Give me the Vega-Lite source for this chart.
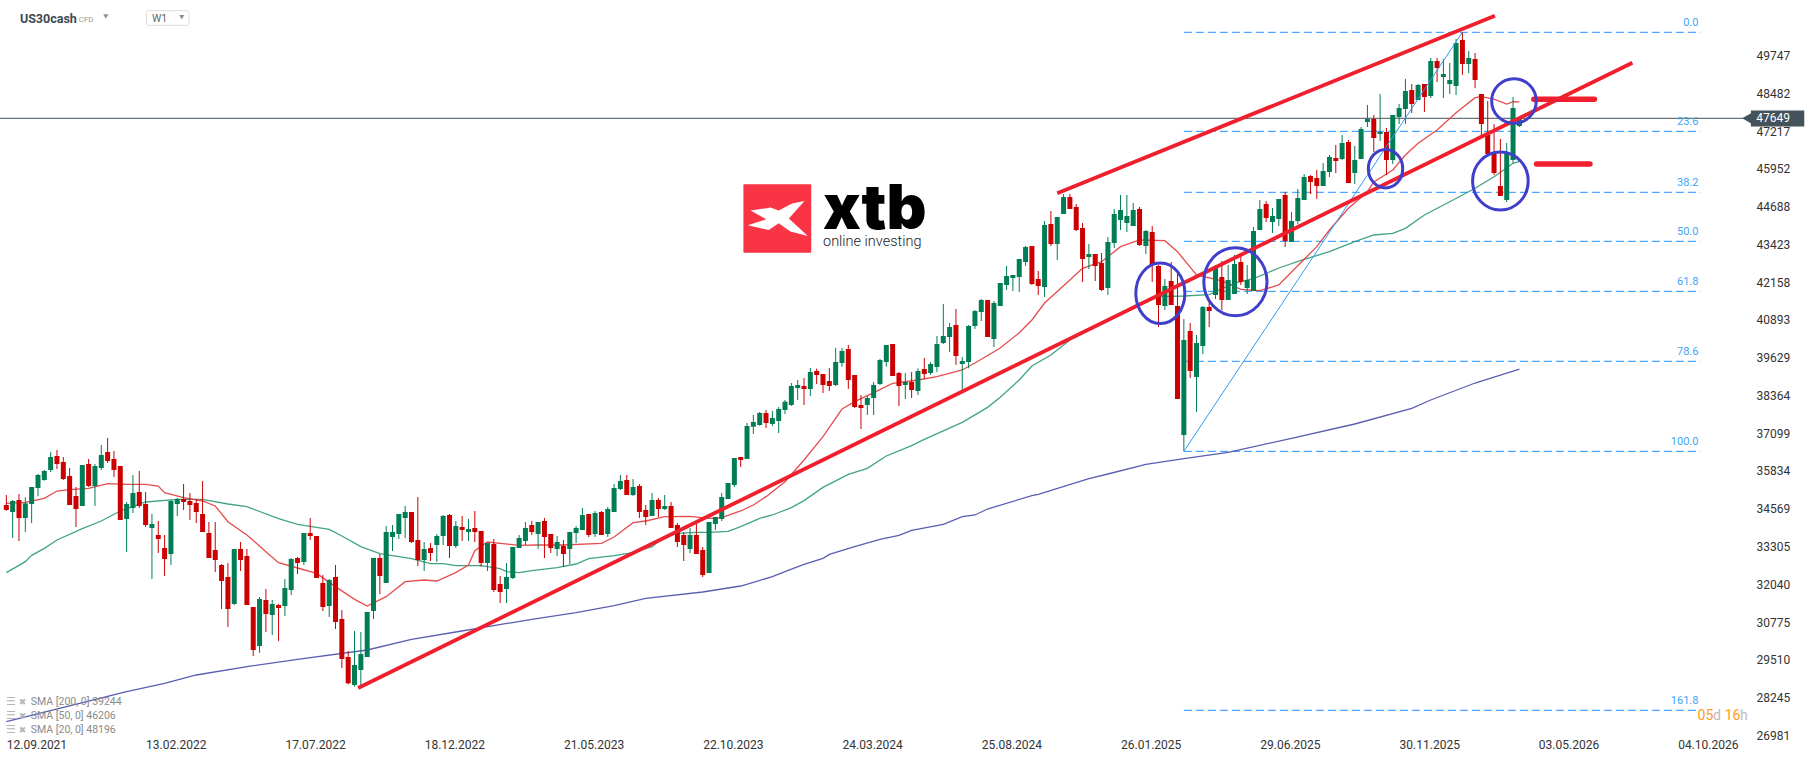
{
  "$schema": "https://vega.github.io/schema/vega-lite/v6.json",
  "width": 1750,
  "height": 740,
  "autosize": "none",
  "padding": {"left": 0, "top": 0, "right": 66, "bottom": 21},
  "background": "white",
  "config": {
    "view": {"stroke": null},
    "font": "Roboto",
    "axis": {"grid": false, "domain": false, "ticks": false, "title": null, "labelFont": "Roboto", "labelFontSize": 12, "labelColor": "#333333"}
  },
  "datasets": {
    "candles": [
      {"date":"2021-09-12","o":34695,"h":35030,"l":34504,"c":34527},
      {"date":"2021-09-19","o":34460,"h":34862,"l":33589,"c":34828},
      {"date":"2021-09-26","o":34862,"h":35063,"l":33488,"c":34259},
      {"date":"2021-10-03","o":34259,"h":34951,"l":33790,"c":34750},
      {"date":"2021-10-10","o":34728,"h":35297,"l":34091,"c":35297},
      {"date":"2021-10-17","o":35264,"h":35733,"l":34985,"c":35700},
      {"date":"2021-10-24","o":35532,"h":35867,"l":35510,"c":35834},
      {"date":"2021-10-31","o":35867,"h":36470,"l":35800,"c":36302},
      {"date":"2021-11-07","o":36336,"h":36537,"l":35900,"c":36068},
      {"date":"2021-11-14","o":36135,"h":36302,"l":35532,"c":35566},
      {"date":"2021-11-21","o":35666,"h":35934,"l":34695,"c":34695},
      {"date":"2021-11-28","o":34996,"h":35297,"l":33957,"c":34560},
      {"date":"2021-12-05","o":34661,"h":36034,"l":34661,"c":36034},
      {"date":"2021-12-12","o":36068,"h":36235,"l":35297,"c":35331},
      {"date":"2021-12-19","o":35331,"h":36068,"l":34661,"c":36001},
      {"date":"2021-12-26","o":35934,"h":36704,"l":35867,"c":36370},
      {"date":"2022-01-02","o":36470,"h":36939,"l":36101,"c":36168},
      {"date":"2022-01-09","o":36235,"h":36503,"l":35633,"c":35867},
      {"date":"2022-01-16","o":36001,"h":36001,"l":34192,"c":34192},
      {"date":"2022-01-23","o":34226,"h":34795,"l":33120,"c":34728},
      {"date":"2022-01-30","o":34594,"h":35700,"l":34426,"c":35096},
      {"date":"2022-02-06","o":35130,"h":35834,"l":34594,"c":34661},
      {"date":"2022-02-13","o":34728,"h":35130,"l":33957,"c":34024},
      {"date":"2022-02-20","o":33924,"h":34393,"l":32216,"c":34058},
      {"date":"2022-02-27","o":33690,"h":34159,"l":33086,"c":33555},
      {"date":"2022-03-06","o":33254,"h":33690,"l":32316,"c":32885},
      {"date":"2022-03-13","o":33053,"h":34862,"l":32685,"c":34828},
      {"date":"2022-03-20","o":34728,"h":34929,"l":34326,"c":34896},
      {"date":"2022-03-27","o":34896,"h":35398,"l":34527,"c":34795},
      {"date":"2022-04-03","o":34828,"h":35096,"l":34192,"c":34695},
      {"date":"2022-04-10","o":34762,"h":34896,"l":34091,"c":34460},
      {"date":"2022-04-17","o":34393,"h":35499,"l":33790,"c":33790},
      {"date":"2022-04-24","o":33757,"h":34125,"l":32919,"c":32919},
      {"date":"2022-05-01","o":33187,"h":34125,"l":32450,"c":32852},
      {"date":"2022-05-08","o":32685,"h":32718,"l":31210,"c":32149},
      {"date":"2022-05-15","o":32283,"h":32752,"l":30608,"c":31210},
      {"date":"2022-05-22","o":31378,"h":33220,"l":31344,"c":33220},
      {"date":"2022-05-29","o":33220,"h":33455,"l":32483,"c":32852},
      {"date":"2022-06-05","o":32986,"h":33220,"l":31344,"c":31344},
      {"date":"2022-06-12","o":31277,"h":31277,"l":29636,"c":29837},
      {"date":"2022-06-19","o":29971,"h":31612,"l":29747,"c":31545},
      {"date":"2022-06-26","o":31512,"h":31880,"l":30440,"c":31043},
      {"date":"2022-07-03","o":31010,"h":31512,"l":30340,"c":31378},
      {"date":"2022-07-10","o":31344,"h":31378,"l":30139,"c":31244},
      {"date":"2022-07-17","o":31311,"h":32216,"l":30976,"c":31914},
      {"date":"2022-07-24","o":31847,"h":32919,"l":31680,"c":32885},
      {"date":"2022-07-31","o":32919,"h":32952,"l":32383,"c":32752},
      {"date":"2022-08-07","o":32785,"h":33757,"l":32685,"c":33757},
      {"date":"2022-08-14","o":33757,"h":34259,"l":33522,"c":33656},
      {"date":"2022-08-21","o":33656,"h":33656,"l":32249,"c":32249},
      {"date":"2022-08-28","o":32082,"h":32349,"l":31143,"c":31277},
      {"date":"2022-09-04","o":31311,"h":32216,"l":30943,"c":32182},
      {"date":"2022-09-11","o":32283,"h":32685,"l":30540,"c":30775},
      {"date":"2022-09-18","o":30875,"h":31177,"l":29234,"c":29535},
      {"date":"2022-09-25","o":29603,"h":29803,"l":28687,"c":28721},
      {"date":"2022-10-02","o":28665,"h":30474,"l":28608,"c":29335},
      {"date":"2022-10-09","o":29167,"h":30440,"l":28608,"c":29703},
      {"date":"2022-10-16","o":29603,"h":31110,"l":29603,"c":31110},
      {"date":"2022-10-23","o":31143,"h":32919,"l":30875,"c":32919},
      {"date":"2022-10-30","o":32919,"h":33053,"l":31713,"c":32316},
      {"date":"2022-11-06","o":32081,"h":33991,"l":32081,"c":33790},
      {"date":"2022-11-13","o":33622,"h":34024,"l":33153,"c":33790},
      {"date":"2022-11-20","o":33723,"h":34393,"l":33556,"c":34393},
      {"date":"2022-11-27","o":34259,"h":34661,"l":33589,"c":34460},
      {"date":"2022-12-04","o":34460,"h":34460,"l":33421,"c":33455},
      {"date":"2022-12-11","o":33522,"h":34962,"l":32651,"c":32852},
      {"date":"2022-12-18","o":32852,"h":33455,"l":32483,"c":33220},
      {"date":"2022-12-25","o":33254,"h":33421,"l":32818,"c":33086},
      {"date":"2023-01-01","o":33354,"h":33723,"l":32785,"c":33656},
      {"date":"2023-01-08","o":33656,"h":34360,"l":33354,"c":34326},
      {"date":"2023-01-15","o":34360,"h":34393,"l":32919,"c":33321},
      {"date":"2023-01-22","o":33321,"h":34159,"l":33254,"c":33991},
      {"date":"2023-01-29","o":33958,"h":34326,"l":33488,"c":33857},
      {"date":"2023-02-05","o":33790,"h":34226,"l":33488,"c":33891},
      {"date":"2023-02-12","o":33924,"h":34494,"l":33455,"c":33790},
      {"date":"2023-02-19","o":33823,"h":33823,"l":32628,"c":32751},
      {"date":"2023-02-26","o":32751,"h":33421,"l":32483,"c":33421},
      {"date":"2023-03-05","o":33388,"h":33556,"l":31780,"c":31847},
      {"date":"2023-03-12","o":32048,"h":32316,"l":31411,"c":31780},
      {"date":"2023-03-19","o":31881,"h":32751,"l":31411,"c":32282},
      {"date":"2023-03-26","o":32249,"h":33287,"l":32215,"c":33287},
      {"date":"2023-04-02","o":33254,"h":33690,"l":33254,"c":33589},
      {"date":"2023-04-09","o":33488,"h":34125,"l":33354,"c":33924},
      {"date":"2023-04-16","o":34024,"h":34159,"l":33690,"c":33790},
      {"date":"2023-04-23","o":33723,"h":34125,"l":33220,"c":34125},
      {"date":"2023-04-30","o":34159,"h":34259,"l":32919,"c":33622},
      {"date":"2023-05-07","o":33723,"h":33723,"l":33086,"c":33254},
      {"date":"2023-05-14","o":33220,"h":33656,"l":32986,"c":33455},
      {"date":"2023-05-21","o":33321,"h":33522,"l":32617,"c":33053},
      {"date":"2023-05-28","o":33220,"h":33790,"l":32718,"c":33790},
      {"date":"2023-06-04","o":33757,"h":33991,"l":33421,"c":33924},
      {"date":"2023-06-11","o":33857,"h":34594,"l":33857,"c":34360},
      {"date":"2023-06-18","o":34393,"h":34393,"l":33622,"c":33690},
      {"date":"2023-06-25","o":33723,"h":34494,"l":33622,"c":34427},
      {"date":"2023-07-02","o":34460,"h":34494,"l":33690,"c":33690},
      {"date":"2023-07-09","o":33723,"h":34627,"l":33622,"c":34560},
      {"date":"2023-07-16","o":34460,"h":35398,"l":34460,"c":35264},
      {"date":"2023-07-23","o":35230,"h":35700,"l":35197,"c":35498},
      {"date":"2023-07-30","o":35532,"h":35700,"l":35030,"c":35030},
      {"date":"2023-08-06","o":35030,"h":35566,"l":34996,"c":35297},
      {"date":"2023-08-13","o":35331,"h":35398,"l":34259,"c":34460},
      {"date":"2023-08-20","o":34527,"h":34694,"l":34024,"c":34292},
      {"date":"2023-08-27","o":34326,"h":35096,"l":34326,"c":34862},
      {"date":"2023-09-03","o":34862,"h":34929,"l":34292,"c":34560},
      {"date":"2023-09-10","o":34560,"h":35030,"l":34527,"c":34661},
      {"date":"2023-09-17","o":34661,"h":34795,"l":33924,"c":33924},
      {"date":"2023-09-24","o":34024,"h":34091,"l":33287,"c":33455},
      {"date":"2023-10-01","o":33690,"h":33790,"l":32818,"c":33354},
      {"date":"2023-10-08","o":33220,"h":33924,"l":33086,"c":33690},
      {"date":"2023-10-15","o":33690,"h":34192,"l":33053,"c":33053},
      {"date":"2023-10-22","o":33187,"h":33287,"l":32283,"c":32349},
      {"date":"2023-10-29","o":32416,"h":34125,"l":32416,"c":34125},
      {"date":"2023-11-05","o":34058,"h":34292,"l":33857,"c":34292},
      {"date":"2023-11-12","o":34226,"h":35096,"l":34159,"c":34962},
      {"date":"2023-11-19","o":34896,"h":35431,"l":34896,"c":35431},
      {"date":"2023-11-26","o":35365,"h":36269,"l":35298,"c":36269},
      {"date":"2023-12-03","o":36303,"h":36303,"l":35968,"c":36202},
      {"date":"2023-12-10","o":36235,"h":37441,"l":36235,"c":37341},
      {"date":"2023-12-17","o":37317,"h":37710,"l":37073,"c":37475},
      {"date":"2023-12-24","o":37374,"h":37810,"l":37351,"c":37777},
      {"date":"2023-12-31","o":37777,"h":37877,"l":37274,"c":37442},
      {"date":"2024-01-07","o":37408,"h":37844,"l":37341,"c":37609},
      {"date":"2024-01-14","o":37508,"h":37977,"l":37106,"c":37910},
      {"date":"2024-01-21","o":37877,"h":38212,"l":37743,"c":38155},
      {"date":"2024-01-28","o":38044,"h":38781,"l":38011,"c":38681},
      {"date":"2024-02-04","o":38614,"h":38882,"l":38212,"c":38715},
      {"date":"2024-02-11","o":38681,"h":38949,"l":38044,"c":38581},
      {"date":"2024-02-18","o":38581,"h":39284,"l":38346,"c":39150},
      {"date":"2024-02-25","o":39183,"h":39261,"l":38748,"c":39050},
      {"date":"2024-03-03","o":39083,"h":39083,"l":38447,"c":38715},
      {"date":"2024-03-10","o":38849,"h":39284,"l":38514,"c":38681},
      {"date":"2024-03-17","o":38715,"h":39954,"l":38681,"c":39485},
      {"date":"2024-03-24","o":39452,"h":39954,"l":39328,"c":39853},
      {"date":"2024-03-31","o":39920,"h":40055,"l":38581,"c":38882},
      {"date":"2024-04-07","o":39050,"h":39050,"l":37944,"c":37977},
      {"date":"2024-04-14","o":38044,"h":38379,"l":37240,"c":37944},
      {"date":"2024-04-21","o":38044,"h":38346,"l":37709,"c":38279},
      {"date":"2024-04-28","o":38279,"h":38815,"l":37709,"c":38714},
      {"date":"2024-05-05","o":38748,"h":39586,"l":38715,"c":39552},
      {"date":"2024-05-12","o":39485,"h":40055,"l":39328,"c":40055},
      {"date":"2024-05-19","o":40088,"h":40088,"l":39016,"c":39016},
      {"date":"2024-05-26","o":39116,"h":39150,"l":38011,"c":38681},
      {"date":"2024-06-02","o":38715,"h":39116,"l":38245,"c":38815},
      {"date":"2024-06-09","o":38815,"h":39150,"l":38279,"c":38547},
      {"date":"2024-06-16","o":38514,"h":39273,"l":38380,"c":39183},
      {"date":"2024-06-23","o":39250,"h":39619,"l":38915,"c":39083},
      {"date":"2024-06-30","o":39116,"h":39485,"l":39050,"c":39418},
      {"date":"2024-07-07","o":39317,"h":40356,"l":39150,"c":40088},
      {"date":"2024-07-14","o":40121,"h":41428,"l":40088,"c":40356},
      {"date":"2024-07-21","o":40322,"h":40792,"l":39820,"c":40657},
      {"date":"2024-07-28","o":40724,"h":41260,"l":39385,"c":39686},
      {"date":"2024-08-04","o":39418,"h":39652,"l":38547,"c":39518},
      {"date":"2024-08-11","o":39485,"h":40724,"l":39273,"c":40691},
      {"date":"2024-08-18","o":40691,"h":41227,"l":40590,"c":41193},
      {"date":"2024-08-25","o":41160,"h":41595,"l":40858,"c":41562},
      {"date":"2024-09-01","o":41562,"h":41562,"l":40322,"c":40322},
      {"date":"2024-09-08","o":40255,"h":41528,"l":39988,"c":41461},
      {"date":"2024-09-15","o":41361,"h":42131,"l":41361,"c":42131},
      {"date":"2024-09-22","o":42065,"h":42701,"l":41897,"c":42366},
      {"date":"2024-09-29","o":42299,"h":42400,"l":41863,"c":42400},
      {"date":"2024-10-06","o":42332,"h":42936,"l":41830,"c":42936},
      {"date":"2024-10-13","o":42835,"h":43371,"l":42701,"c":43337},
      {"date":"2024-10-20","o":43371,"h":43371,"l":42065,"c":42098},
      {"date":"2024-10-27","o":42266,"h":42533,"l":41730,"c":42031},
      {"date":"2024-11-03","o":41997,"h":44208,"l":41662,"c":44074},
      {"date":"2024-11-10","o":44108,"h":44544,"l":43371,"c":43438},
      {"date":"2024-11-17","o":43438,"h":44342,"l":42902,"c":44342},
      {"date":"2024-11-24","o":44443,"h":45113,"l":44443,"c":45012},
      {"date":"2024-12-01","o":45012,"h":45113,"l":44610,"c":44610},
      {"date":"2024-12-08","o":44677,"h":44778,"l":43873,"c":43907},
      {"date":"2024-12-15","o":43974,"h":44142,"l":42165,"c":42936},
      {"date":"2024-12-22","o":43002,"h":43438,"l":42600,"c":43103},
      {"date":"2024-12-29","o":43103,"h":43103,"l":42198,"c":42701},
      {"date":"2025-01-05","o":42802,"h":43136,"l":41863,"c":41897},
      {"date":"2025-01-12","o":41964,"h":43672,"l":41730,"c":43505},
      {"date":"2025-01-19","o":43472,"h":44610,"l":43304,"c":44443},
      {"date":"2025-01-26","o":44242,"h":45079,"l":43907,"c":44577},
      {"date":"2025-02-02","o":44142,"h":45079,"l":43840,"c":44376},
      {"date":"2025-02-09","o":44041,"h":44811,"l":44041,"c":44577},
      {"date":"2025-02-16","o":44610,"h":44677,"l":43371,"c":43404},
      {"date":"2025-02-23","o":43371,"h":43907,"l":43103,"c":43873},
      {"date":"2025-03-02","o":43840,"h":44041,"l":42165,"c":42768},
      {"date":"2025-03-09","o":42701,"h":42734,"l":40657,"c":41394},
      {"date":"2025-03-16","o":41361,"h":42266,"l":41227,"c":42031},
      {"date":"2025-03-23","o":42198,"h":42835,"l":41394,"c":41394},
      {"date":"2025-03-30","o":41361,"h":42466,"l":38245,"c":38245},
      {"date":"2025-04-06","o":37039,"h":40925,"l":36504,"c":40222},
      {"date":"2025-04-13","o":40523,"h":40792,"l":38949,"c":39183},
      {"date":"2025-04-20","o":38983,"h":40389,"l":37810,"c":40121},
      {"date":"2025-04-27","o":40021,"h":41361,"l":39753,"c":41327},
      {"date":"2025-05-04","o":41327,"h":41562,"l":40657,"c":41193},
      {"date":"2025-05-11","o":41730,"h":42734,"l":41596,"c":42650},
      {"date":"2025-05-18","o":42332,"h":42868,"l":41227,"c":41562},
      {"date":"2025-05-25","o":41562,"h":42734,"l":41562,"c":42232},
      {"date":"2025-06-01","o":41763,"h":43069,"l":41763,"c":42768},
      {"date":"2025-06-08","o":42835,"h":43069,"l":42065,"c":42165},
      {"date":"2025-06-15","o":41964,"h":42734,"l":41763,"c":42232},
      {"date":"2025-06-22","o":41863,"h":44007,"l":41863,"c":43873},
      {"date":"2025-06-29","o":43907,"h":44912,"l":43907,"c":44610},
      {"date":"2025-07-06","o":44778,"h":44878,"l":44175,"c":44309},
      {"date":"2025-07-13","o":44175,"h":44644,"l":43806,"c":44376},
      {"date":"2025-07-20","o":44275,"h":44945,"l":44041,"c":44945},
      {"date":"2025-07-27","o":45079,"h":45180,"l":43338,"c":43538},
      {"date":"2025-08-03","o":43505,"h":44510,"l":43505,"c":44208},
      {"date":"2025-08-10","o":44208,"h":45280,"l":44108,"c":44979},
      {"date":"2025-08-17","o":44912,"h":45783,"l":44912,"c":45682},
      {"date":"2025-08-24","o":45716,"h":45749,"l":45113,"c":45515},
      {"date":"2025-08-31","o":45649,"h":45917,"l":44946,"c":45381},
      {"date":"2025-09-07","o":45381,"h":46152,"l":45381,"c":45884},
      {"date":"2025-09-14","o":45850,"h":46420,"l":45682,"c":46352},
      {"date":"2025-09-21","o":46319,"h":46754,"l":45816,"c":46218},
      {"date":"2025-09-28","o":46285,"h":47090,"l":46252,"c":46822},
      {"date":"2025-10-05","o":46855,"h":46922,"l":45481,"c":45481},
      {"date":"2025-10-12","o":45816,"h":46721,"l":45448,"c":46252},
      {"date":"2025-10-19","o":46285,"h":47357,"l":46285,"c":47290},
      {"date":"2025-10-26","o":47525,"h":48094,"l":47357,"c":47626},
      {"date":"2025-11-02","o":47626,"h":47760,"l":46520,"c":46989},
      {"date":"2025-11-09","o":47123,"h":48463,"l":46888,"c":47190},
      {"date":"2025-11-16","o":47190,"h":47324,"l":45749,"c":46252},
      {"date":"2025-11-23","o":46252,"h":47760,"l":46118,"c":47760},
      {"date":"2025-11-30","o":47692,"h":48128,"l":47458,"c":47994},
      {"date":"2025-12-07","o":47960,"h":48965,"l":47458,"c":48564},
      {"date":"2025-12-14","o":48597,"h":48798,"l":47826,"c":48128},
      {"date":"2025-12-21","o":48262,"h":48798,"l":48262,"c":48764},
      {"date":"2025-12-28","o":48798,"h":48798,"l":47860,"c":48362},
      {"date":"2026-01-04","o":48396,"h":49669,"l":48329,"c":49568},
      {"date":"2026-01-11","o":49568,"h":49669,"l":48865,"c":49334},
      {"date":"2026-01-18","o":49033,"h":49635,"l":48329,"c":49133},
      {"date":"2026-01-25","o":48798,"h":49501,"l":48463,"c":48932},
      {"date":"2026-02-01","o":48731,"h":50306,"l":48430,"c":50172},
      {"date":"2026-02-08","o":50272,"h":50540,"l":49100,"c":49468},
      {"date":"2026-02-15","o":49468,"h":49904,"l":49166,"c":49669},
      {"date":"2026-02-22","o":49635,"h":49837,"l":48664,"c":48932},
      {"date":"2026-03-01","o":48463,"h":48463,"l":47090,"c":47458},
      {"date":"2026-03-08","o":47090,"h":48228,"l":46453,"c":46453},
      {"date":"2026-03-15","o":46453,"h":47458,"l":45749,"c":45816},
      {"date":"2026-03-22","o":45381,"h":46955,"l":45046,"c":45046},
      {"date":"2026-03-29","o":44912,"h":46822,"l":44845,"c":46487},
      {"date":"2026-04-05","o":46252,"h":48362,"l":46152,"c":47994},
      {"date":"2026-04-12","o":47391,"h":47649,"l":47357,"c":47649}
    ],
    "sma": [
      {"series":"SMA50","date":"2021-09-12","price":32428},{"series":"SMA50","date":"2021-10-03","price":32796},{"series":"SMA50","date":"2021-10-10","price":33008},{"series":"SMA50","date":"2021-10-24","price":33243},{"series":"SMA50","date":"2021-11-07","price":33522},{"series":"SMA50","date":"2021-12-05","price":33902},{"series":"SMA50","date":"2021-12-26","price":34159},{"series":"SMA50","date":"2022-01-16","price":34494},{"series":"SMA50","date":"2022-02-13","price":34795},{"series":"SMA50","date":"2022-03-20","price":34884},{"series":"SMA50","date":"2022-04-17","price":34884},{"series":"SMA50","date":"2022-05-15","price":34728},{"series":"SMA50","date":"2022-06-05","price":34639},{"series":"SMA50","date":"2022-07-10","price":34237},{"series":"SMA50","date":"2022-07-31","price":34047},{"series":"SMA50","date":"2022-09-04","price":33879},{"series":"SMA50","date":"2022-09-18","price":33656},{"series":"SMA50","date":"2022-10-09","price":33299},{"series":"SMA50","date":"2022-10-30","price":33064},{"series":"SMA50","date":"2022-12-04","price":32897},{"series":"SMA50","date":"2022-12-25","price":32729},{"series":"SMA50","date":"2023-01-08","price":32729},{"series":"SMA50","date":"2023-01-22","price":32662},{"series":"SMA50","date":"2023-02-19","price":32662},{"series":"SMA50","date":"2023-03-12","price":32562},{"series":"SMA50","date":"2023-03-19","price":32461},{"series":"SMA50","date":"2023-04-02","price":32428},{"series":"SMA50","date":"2023-04-16","price":32495},{"series":"SMA50","date":"2023-05-14","price":32595},{"series":"SMA50","date":"2023-06-04","price":32718},{"series":"SMA50","date":"2023-06-18","price":32897},{"series":"SMA50","date":"2023-07-16","price":32997},{"series":"SMA50","date":"2023-08-06","price":33098},{"series":"SMA50","date":"2023-08-27","price":33299},{"series":"SMA50","date":"2023-09-10","price":33634},{"series":"SMA50","date":"2023-09-24","price":33745},{"series":"SMA50","date":"2023-10-15","price":33779},{"series":"SMA50","date":"2023-10-29","price":33779},{"series":"SMA50","date":"2023-11-19","price":33812},{"series":"SMA50","date":"2023-12-03","price":33969},{"series":"SMA50","date":"2023-12-24","price":34248},{"series":"SMA50","date":"2024-01-07","price":34360},{"series":"SMA50","date":"2024-01-28","price":34605},{"series":"SMA50","date":"2024-02-11","price":34840},{"series":"SMA50","date":"2024-03-03","price":35286},{"series":"SMA50","date":"2024-03-31","price":35722},{"series":"SMA50","date":"2024-04-21","price":35923},{"series":"SMA50","date":"2024-05-12","price":36336},{"series":"SMA50","date":"2024-06-09","price":36682},{"series":"SMA50","date":"2024-06-23","price":36894},{"series":"SMA50","date":"2024-08-04","price":37464},{"series":"SMA50","date":"2024-09-01","price":37966},{"series":"SMA50","date":"2024-09-15","price":38301},{"series":"SMA50","date":"2024-10-06","price":38882},{"series":"SMA50","date":"2024-10-20","price":39351},{"series":"SMA50","date":"2024-11-10","price":39719},{"series":"SMA50","date":"2024-12-01","price":40222},{"series":"SMA50","date":"2025-01-05","price":40791},{"series":"SMA50","date":"2025-02-16","price":41461},{"series":"SMA50","date":"2025-03-09","price":41673},{"series":"SMA50","date":"2025-04-06","price":41696},{"series":"SMA50","date":"2025-05-04","price":41740},{"series":"SMA50","date":"2025-06-01","price":42131},{"series":"SMA50","date":"2025-06-22","price":42276},{"series":"SMA50","date":"2025-07-20","price":42634},{"series":"SMA50","date":"2025-08-17","price":42925},{"series":"SMA50","date":"2025-09-14","price":43180},{"series":"SMA50","date":"2025-10-12","price":43515},{"series":"SMA50","date":"2025-11-02","price":43740},{"series":"SMA50","date":"2025-11-23","price":43796},{"series":"SMA50","date":"2025-12-07","price":43964},{"series":"SMA50","date":"2025-12-28","price":44410},{"series":"SMA50","date":"2026-01-25","price":44855},{"series":"SMA50","date":"2026-02-22","price":45304},{"series":"SMA50","date":"2026-03-15","price":45692},{"series":"SMA50","date":"2026-04-05","price":46141},{"series":"SMA50","date":"2026-04-12","price":46206},
      {"series":"SMA20","date":"2021-09-12","price":34750},{"series":"SMA20","date":"2021-10-03","price":34784},{"series":"SMA20","date":"2021-10-24","price":34918},{"series":"SMA20","date":"2021-11-07","price":35163},{"series":"SMA20","date":"2021-11-21","price":35208},{"series":"SMA20","date":"2021-12-12","price":35253},{"series":"SMA20","date":"2022-01-02","price":35409},{"series":"SMA20","date":"2022-01-23","price":35387},{"series":"SMA20","date":"2022-02-13","price":35387},{"series":"SMA20","date":"2022-02-27","price":35331},{"series":"SMA20","date":"2022-03-06","price":35108},{"series":"SMA20","date":"2022-03-27","price":34940},{"series":"SMA20","date":"2022-04-17","price":34829},{"series":"SMA20","date":"2022-05-01","price":34661},{"series":"SMA20","date":"2022-05-15","price":34136},{"series":"SMA20","date":"2022-06-05","price":33690},{"series":"SMA20","date":"2022-06-26","price":33131},{"series":"SMA20","date":"2022-07-10","price":32763},{"series":"SMA20","date":"2022-07-31","price":32584},{"series":"SMA20","date":"2022-08-21","price":32405},{"series":"SMA20","date":"2022-09-11","price":31959},{"series":"SMA20","date":"2022-10-02","price":31534},{"series":"SMA20","date":"2022-10-16","price":31311},{"series":"SMA20","date":"2022-11-06","price":31624},{"series":"SMA20","date":"2022-11-27","price":32126},{"series":"SMA20","date":"2022-12-18","price":32182},{"series":"SMA20","date":"2023-01-01","price":32148},{"series":"SMA20","date":"2023-01-22","price":32428},{"series":"SMA20","date":"2023-02-05","price":32685},{"series":"SMA20","date":"2023-02-12","price":33165},{"series":"SMA20","date":"2023-02-26","price":33455},{"series":"SMA20","date":"2023-03-12","price":33410},{"series":"SMA20","date":"2023-04-02","price":33343},{"series":"SMA20","date":"2023-04-23","price":33354},{"series":"SMA20","date":"2023-05-21","price":33354},{"series":"SMA20","date":"2023-07-02","price":33410},{"series":"SMA20","date":"2023-07-16","price":33622},{"series":"SMA20","date":"2023-08-06","price":34103},{"series":"SMA20","date":"2023-08-20","price":34159},{"series":"SMA20","date":"2023-09-10","price":34304},{"series":"SMA20","date":"2023-10-08","price":34315},{"series":"SMA20","date":"2023-10-29","price":34248},{"series":"SMA20","date":"2023-11-12","price":34270},{"series":"SMA20","date":"2023-12-03","price":34494},{"series":"SMA20","date":"2023-12-17","price":34694},{"series":"SMA20","date":"2023-12-31","price":34974},{"series":"SMA20","date":"2024-01-21","price":35476},{"series":"SMA20","date":"2024-02-11","price":36202},{"series":"SMA20","date":"2024-03-03","price":36984},{"series":"SMA20","date":"2024-03-24","price":37910},{"series":"SMA20","date":"2024-04-07","price":38156},{"series":"SMA20","date":"2024-04-28","price":38458},{"series":"SMA20","date":"2024-05-19","price":38770},{"series":"SMA20","date":"2024-06-16","price":38882},{"series":"SMA20","date":"2024-07-07","price":38993},{"series":"SMA20","date":"2024-08-04","price":39217},{"series":"SMA20","date":"2024-08-18","price":39451},{"series":"SMA20","date":"2024-09-15","price":39954},{"series":"SMA20","date":"2024-10-06","price":40466},{"series":"SMA20","date":"2024-10-20","price":40892},{"series":"SMA20","date":"2024-11-03","price":41461},{"series":"SMA20","date":"2024-12-01","price":42232},{"series":"SMA20","date":"2024-12-15","price":42624},{"series":"SMA20","date":"2025-01-05","price":42845},{"series":"SMA20","date":"2025-01-26","price":43348},{"series":"SMA20","date":"2025-02-16","price":43572},{"series":"SMA20","date":"2025-03-16","price":43549},{"series":"SMA20","date":"2025-03-30","price":43180},{"series":"SMA20","date":"2025-04-20","price":42400},{"series":"SMA20","date":"2025-05-18","price":42199},{"series":"SMA20","date":"2025-06-08","price":41920},{"series":"SMA20","date":"2025-06-29","price":41874},{"series":"SMA20","date":"2025-07-20","price":42065},{"series":"SMA20","date":"2025-08-17","price":42925},{"series":"SMA20","date":"2025-08-31","price":43348},{"series":"SMA20","date":"2025-09-14","price":43907},{"series":"SMA20","date":"2025-10-05","price":44634},{"series":"SMA20","date":"2025-10-26","price":45190},{"series":"SMA20","date":"2025-11-02","price":45515},{"series":"SMA20","date":"2025-11-23","price":45917},{"series":"SMA20","date":"2025-12-07","price":46420},{"series":"SMA20","date":"2025-12-21","price":46811},{"series":"SMA20","date":"2026-01-11","price":47257},{"series":"SMA20","date":"2026-02-01","price":47836},{"series":"SMA20","date":"2026-02-22","price":48339},{"series":"SMA20","date":"2026-03-01","price":48372},{"series":"SMA20","date":"2026-03-15","price":48289},{"series":"SMA20","date":"2026-03-29","price":48128},{"series":"SMA20","date":"2026-04-05","price":48205},{"series":"SMA20","date":"2026-04-12","price":48196},
      {"series":"SMA200","date":"2021-09-12","price":27435},{"series":"SMA200","date":"2022-01-23","price":28440},{"series":"SMA200","date":"2022-03-06","price":28721},{"series":"SMA200","date":"2022-04-10","price":29000},{"series":"SMA200","date":"2022-06-12","price":29311},{"series":"SMA200","date":"2022-07-31","price":29525},{"series":"SMA200","date":"2022-10-16","price":29837},{"series":"SMA200","date":"2022-12-04","price":30195},{"series":"SMA200","date":"2023-01-22","price":30440},{"series":"SMA200","date":"2023-04-16","price":30865},{"series":"SMA200","date":"2023-06-04","price":31087},{"series":"SMA200","date":"2023-07-16","price":31321},{"series":"SMA200","date":"2023-08-20","price":31569},{"series":"SMA200","date":"2023-10-22","price":31780},{"series":"SMA200","date":"2023-12-03","price":31981},{"series":"SMA200","date":"2023-12-17","price":32104},{"series":"SMA200","date":"2024-01-07","price":32293},{"series":"SMA200","date":"2024-01-21","price":32461},{"series":"SMA200","date":"2024-02-11","price":32707},{"series":"SMA200","date":"2024-03-03","price":32908},{"series":"SMA200","date":"2024-03-10","price":33042},{"series":"SMA200","date":"2024-04-07","price":33299},{"series":"SMA200","date":"2024-05-05","price":33544},{"series":"SMA200","date":"2024-05-26","price":33678},{"series":"SMA200","date":"2024-06-09","price":33846},{"series":"SMA200","date":"2024-07-14","price":34047},{"series":"SMA200","date":"2024-08-04","price":34303},{"series":"SMA200","date":"2024-08-18","price":34360},{"series":"SMA200","date":"2024-09-01","price":34560},{"series":"SMA200","date":"2024-09-08","price":34627},{"series":"SMA200","date":"2024-10-20","price":35007},{"series":"SMA200","date":"2024-10-27","price":35052},{"series":"SMA200","date":"2024-12-22","price":35577},{"series":"SMA200","date":"2025-01-12","price":35733},{"series":"SMA200","date":"2025-02-23","price":36058},{"series":"SMA200","date":"2025-04-06","price":36245},{"series":"SMA200","date":"2025-05-25","price":36460},{"series":"SMA200","date":"2025-08-03","price":36929},{"series":"SMA200","date":"2025-10-12","price":37408},{"series":"SMA200","date":"2025-12-14","price":37934},{"series":"SMA200","date":"2026-01-04","price":38212},{"series":"SMA200","date":"2026-02-22","price":38781},{"series":"SMA200","date":"2026-04-12","price":39244}
    ],
    "fib": [
      {"level":"0.0","price":50530,"date":"2025-04-06","end":"2026-10-29","at":"2026-10-27"},
      {"level":"23.6","price":47213,"date":"2025-04-06","end":"2026-10-29","at":"2026-10-27"},
      {"level":"38.2","price":45170,"date":"2025-04-06","end":"2026-10-29","at":"2026-10-27"},
      {"level":"50.0","price":43528,"date":"2025-04-06","end":"2026-10-29","at":"2026-10-27"},
      {"level":"61.8","price":41853,"date":"2025-04-06","end":"2026-10-29","at":"2026-10-27"},
      {"level":"78.6","price":39509,"date":"2025-04-06","end":"2026-10-29","at":"2026-10-27"},
      {"level":"100.0","price":36493,"date":"2025-04-06","end":"2026-10-29","at":"2026-10-27"},
      {"level":"161.8","price":27817,"date":"2025-04-06","end":"2026-10-29","at":"2026-10-27"}
    ],
    "trend": [
      {"line":"channel low","date":"2022-10-06","price":28564},
      {"line":"channel low","date":"2026-08-15","price":49512},
      {"line":"channel high","date":"2024-11-17","price":45136},
      {"line":"channel high","date":"2026-03-16","price":51086}
    ],
    "levels": [
      {"line":"resistance","date":"2026-04-28","price":48285},
      {"line":"resistance","date":"2026-07-04","price":48285},
      {"line":"support","date":"2026-05-01","price":46118},
      {"line":"support","date":"2026-06-29","price":46118}
    ],
    "smaLegend": [
      {"text":"SMA [200, 0] 39244","date":"2021-10-09","price":28105,"menu":"2021-09-17","drop":"2021-09-30"},
      {"text":"SMA [50, 0] 46206","date":"2021-10-09","price":27636,"menu":"2021-09-17","drop":"2021-09-30"},
      {"text":"SMA [20, 0] 48196","date":"2021-10-09","price":27167,"menu":"2021-09-17","drop":"2021-09-30"}
    ]
  },
  "encoding": {
    "x": {
      "field": "date",
      "type": "temporal",
      "scale": {"type": "utc", "domain": ["2021-09-05", "2026-12-23"], "padding": 0},
      "axis": {
        "title": null,
        "format": "%d.%m.%Y",
        "values": ["2021-09-12", "2022-02-13", "2022-07-17", "2022-12-18", "2023-05-21", "2023-10-22", "2024-03-24", "2024-08-25", "2025-01-26", "2025-06-29", "2025-11-30", "2026-05-03", "2026-10-04"],
        "labelAlign": "left",
        "labelBaseline": "middle",
        "labelPadding": 4,
        "labelOverlap": false,
        "labelBound": false,
        "labelFlush": false
      }
    },
    "y": {
      "field": "price",
      "type": "quantitative",
      "scale": {"domain": [26822, 51612], "nice": false, "zero": false},
      "axis": {
        "title": null,
        "orient": "right",
        "format": "d",
        "values": [49747, 48482, 47217, 45952, 44688, 43423, 42158, 40893, 39629, 38364, 37099, 35834, 34569, 33305, 32040, 30775, 29510, 28245, 26981],
        "labelPadding": 6,
        "labelOverlap": false,
        "labelBound": false,
        "labelFlush": false
      }
    }
  },
  "layer": [
    {
      "data": {"values": [{"price": 47649}]},
      "mark": {"type": "rule", "color": "#44525c", "strokeWidth": 1},
      "encoding": {"x": {"value": 0}, "x2": {"value": 1750}}
    },
    {
      "data": {"name": "fib", "format": {"parse": {"date": "date", "end": "date", "at": "date"}}},
      "mark": {"type": "rule", "color": "#1e90ff", "strokeWidth": 1, "strokeDash": [8, 4]},
      "encoding": {"x2": {"field": "end"}}
    },
    {
      "data": {"name": "sma"},
      "mark": {"type": "line", "strokeWidth": 1.3, "opacity": 0.9},
      "encoding": {
        "color": {
          "field": "series",
          "type": "nominal",
          "legend": null,
          "scale": {"domain": ["SMA20", "SMA50", "SMA200"], "range": ["#e23a3c", "#2e9a74", "#474da8"]}
        }
      }
    },
    {
      "data": {"name": "candles"},
      "mark": {"type": "rule", "strokeWidth": 1},
      "encoding": {
        "y": {"field": "l", "type": "quantitative", "title": null},
        "y2": {"field": "h"},
        "color": {"condition": {"test": "datum.c >= datum.o", "value": "#007d55"}, "value": "#cc0000"}
      }
    },
    {
      "data": {"name": "candles"},
      "mark": {"type": "bar", "width": 5},
      "encoding": {
        "y": {"field": "o", "type": "quantitative", "title": null},
        "y2": {"field": "c"},
        "color": {"condition": {"test": "datum.c >= datum.o", "value": "#007d55"}, "value": "#cc0000"}
      }
    },
    {
      "data": {"values": [
        {"date": "2025-04-06", "price": 36493},
        {"date": "2026-02-08", "price": 50530}
      ]},
      "mark": {"type": "line", "color": "#2f9bf4", "strokeWidth": 1}
    },
    {
      "data": {"name": "trend"},
      "mark": {"type": "line", "color": "#f01f2d", "strokeWidth": 3.8},
      "encoding": {"detail": {"field": "line"}}
    },
    {
      "data": {"name": "levels"},
      "mark": {"type": "line", "color": "#f01f2d", "strokeWidth": 5.5, "strokeCap": "round"},
      "encoding": {"detail": {"field": "line"}}
    },
    {
      "data": {"values": [{"date": "2025-03-11", "price": 41787}]},
      "mark": {"type": "point", "shape": "M-0.81,0 A0.81,1 0 1,1 0.81,0 A0.81,1 0 1,1 -0.81,0 Z", "size": 3672, "filled": false, "stroke": "#3f3fcb", "strokeWidth": 3, "opacity": 1}
    },
    {
      "data": {"values": [{"date": "2025-06-02", "price": 42175}]},
      "mark": {"type": "point", "shape": "M-0.93,0 A0.93,1 0 1,1 0.93,0 A0.93,1 0 1,1 -0.93,0 Z", "size": 4624, "filled": false, "stroke": "#3f3fcb", "strokeWidth": 3, "opacity": 1}
    },
    {
      "data": {"values": [{"date": "2025-11-15", "price": 45961}]},
      "mark": {"type": "point", "shape": "M-0.89,0 A0.89,1 0 1,1 0.89,0 A0.89,1 0 1,1 -0.89,0 Z", "size": 1490, "filled": false, "stroke": "#3f3fcb", "strokeWidth": 3, "opacity": 1}
    },
    {
      "data": {"values": [{"date": "2026-03-22", "price": 45548}]},
      "mark": {"type": "point", "shape": "M-0.96,0 A0.96,1 0 1,1 0.96,0 A0.96,1 0 1,1 -0.96,0 Z", "size": 3364, "filled": false, "stroke": "#3f3fcb", "strokeWidth": 3, "opacity": 1}
    },
    {
      "data": {"values": [{"date": "2026-04-06", "price": 48228}]},
      "mark": {"type": "point", "shape": "M-1,0 A1,1 0 1,1 1,0 A1,1 0 1,1 -1,0 Z", "size": 1990, "filled": false, "stroke": "#3f3fcb", "strokeWidth": 3, "opacity": 1}
    },
    {
      "data": {"name": "fib", "format": {"parse": {"date": "date", "end": "date", "at": "date"}}},
      "mark": {"type": "text", "align": "right", "baseline": "middle", "dy": -9, "font": "Roboto", "fontSize": 11, "color": "#41a5f5"},
      "encoding": {"x": {"field": "at", "type": "temporal"}, "text": {"field": "level"}}
    },
    {
      "data": {"values": [{"start": "2026-12-24", "date": "2027-02-21", "top": 47910, "bottom": 47374}], "format": {"parse": {"start": "date", "date": "date"}}},
      "mark": {"type": "rect", "color": "#44525c"},
      "encoding": {
        "x": {"field": "start", "type": "temporal"},
        "x2": {"field": "date"},
        "y": {"field": "top", "type": "quantitative", "title": null},
        "y2": {"field": "bottom"}
      }
    },
    {
      "data": {"values": [{"date": "2026-12-21", "price": 47649}]},
      "mark": {"type": "point", "shape": "triangle-left", "filled": true, "size": 190, "color": "#44525c", "opacity": 1}
    },
    {
      "data": {"values": [{"date": "2026-12-30", "price": 47649, "text": "47649"}]},
      "mark": {"type": "text", "align": "left", "baseline": "middle", "font": "Roboto", "fontSize": 12, "color": "white"},
      "encoding": {"text": {"field": "text"}}
    },
    {
      "data": {"name": "smaLegend"},
      "mark": {"type": "text", "align": "left", "baseline": "middle", "font": "Roboto", "fontSize": 10.5, "color": "#8a8a8a"},
      "encoding": {"text": {"field": "text"}}
    },
    {
      "data": {"name": "smaLegend", "format": {"parse": {"menu": "date"}}},
      "mark": {"type": "text", "baseline": "middle", "font": "DejaVu Sans", "fontSize": 11, "color": "#b5b5b5"},
      "encoding": {"x": {"field": "menu", "type": "temporal"}, "text": {"value": "☰"}}
    },
    {
      "data": {"name": "smaLegend", "format": {"parse": {"drop": "date"}}},
      "mark": {"type": "text", "baseline": "middle", "font": "DejaVu Sans", "fontSize": 9, "color": "#b5b5b5"},
      "encoding": {"x": {"field": "drop", "type": "temporal"}, "text": {"value": "✖"}}
    },
    {
      "data": {"values": [{"date": "2026-10-26", "price": 27626, "text": "05"}, {"date": "2026-11-25", "price": 27626, "text": "16"}]},
      "mark": {"type": "text", "align": "left", "baseline": "middle", "font": "Roboto", "fontSize": 14, "color": "#ff9a1f"},
      "encoding": {"text": {"field": "text"}}
    },
    {
      "data": {"values": [{"date": "2026-11-12", "price": 27626, "text": "d"}, {"date": "2026-12-12", "price": 27626, "text": "h"}]},
      "mark": {"type": "text", "align": "left", "baseline": "middle", "font": "Roboto", "fontSize": 14, "color": "#bdbdbd"},
      "encoding": {"text": {"field": "text"}}
    },
    {
      "data": {"values": [{"date": "2021-09-27", "price": 50975, "text": "US30cash"}]},
      "mark": {"type": "text", "align": "left", "baseline": "middle", "font": "Roboto", "fontSize": 12.5, "fontWeight": "bold", "color": "#3c4a55"},
      "encoding": {"text": {"field": "text"}}
    },
    {
      "data": {"values": [{"date": "2021-12-01", "price": 50950, "text": "CFD"}]},
      "mark": {"type": "text", "align": "left", "baseline": "middle", "font": "Roboto", "fontSize": 8, "color": "#9a9a9a"},
      "encoding": {"text": {"field": "text"}}
    },
    {
      "data": {"values": [{"start": "2022-02-14", "date": "2022-04-02", "top": 51254, "bottom": 50764}], "format": {"parse": {"start": "date", "date": "date"}}},
      "mark": {"type": "rect", "fill": "white", "stroke": "#dddddd", "strokeWidth": 1, "cornerRadius": 2},
      "encoding": {
        "x": {"field": "start", "type": "temporal"},
        "x2": {"field": "date"},
        "y": {"field": "top", "type": "quantitative", "title": null},
        "y2": {"field": "bottom"}
      }
    },
    {
      "data": {"values": [{"date": "2022-02-20", "price": 50960, "text": "W1"}]},
      "mark": {"type": "text", "align": "left", "baseline": "middle", "font": "Roboto", "fontSize": 10.5, "color": "#666666"},
      "encoding": {"text": {"field": "text"}}
    },
    {
      "data": {"values": [{"date": "2021-12-31", "price": 51059}, {"date": "2022-03-25", "price": 51032}]},
      "mark": {"type": "point", "shape": "triangle-down", "filled": true, "size": 26, "color": "#8f8f8f", "opacity": 1}
    },
    {
      "data": {"values": [{"start": "2023-12-06", "date": "2024-02-19", "top": 45438, "bottom": 43146}], "format": {"parse": {"start": "date", "date": "date"}}},
      "mark": {"type": "rect", "color": "#f93444", "cornerRadius": 1},
      "encoding": {
        "x": {"field": "start", "type": "temporal"},
        "x2": {"field": "date"},
        "y": {"field": "top", "type": "quantitative", "title": null},
        "y2": {"field": "bottom"}
      }
    },
    {
      "data": {"values": [{"date": "2024-01-13", "price": 44265}]},
      "mark": {"type": "point", "shape": "M-0.91,-0.29 L-0.24,-0.39 L0.03,-0.29 L0.48,-0.53 L0.89,-0.61 L0.37,-0.03 L1,0.56 L0.42,0.41 L0.03,0.13 L-0.3,0.36 L-1,0.2 L-0.38,0 Z", "size": 3600, "filled": true, "color": "white", "opacity": 1}
    },
    {
      "data": {"values": [{"date": "2024-03-03", "price": 43930, "text": "xtb"}]},
      "mark": {"type": "text", "align": "left", "baseline": "alphabetic", "font": "Inter", "fontSize": 62, "fontWeight": 900, "color": "#000000"},
      "encoding": {"text": {"field": "text"}}
    },
    {
      "data": {"values": [{"date": "2024-03-03", "price": 43515, "text": "online investing"}]},
      "mark": {"type": "text", "align": "left", "baseline": "middle", "font": "Roboto", "fontSize": 14.5, "fontWeight": 300, "color": "#222222"},
      "encoding": {"text": {"field": "text"}}
    }
  ]
}
